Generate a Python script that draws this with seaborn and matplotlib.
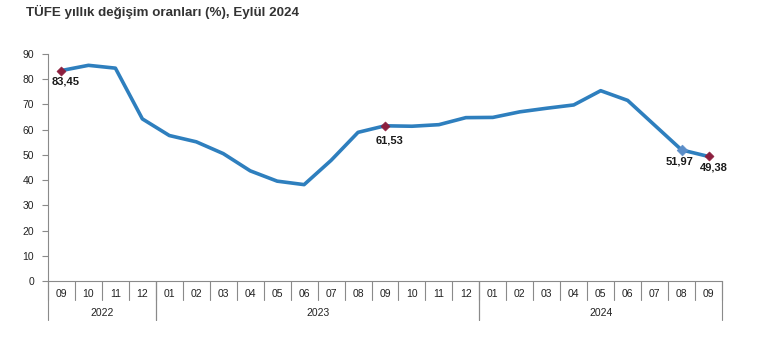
import matplotlib
matplotlib.use("Agg")
import matplotlib.pyplot as plt
import matplotlib.transforms as mtransforms
import seaborn as sns
import pandas as pd
import numpy as np

months = ["09", "10", "11", "12",
          "01", "02", "03", "04", "05", "06", "07", "08", "09", "10", "11", "12",
          "01", "02", "03", "04", "05", "06", "07", "08", "09"]
years = ["2022"] * 4 + ["2023"] * 12 + ["2024"] * 9
values = [83.45, 85.51, 84.39, 64.27,
          57.68, 55.18, 50.51, 43.68, 39.59, 38.21, 47.83, 58.94, 61.53, 61.36, 61.98, 64.77,
          64.86, 67.07, 68.50, 69.80, 75.45, 71.60, 61.78, 51.97, 49.38]
yticks = [0, 10, 20, 30, 40, 50, 60, 70, 80, 90]
title = "TÜFE yıllık değişim oranları (%), Eylül 2024"

highlight_red = [0, 12, 24]
highlight_blue = [23]

df = pd.DataFrame({"idx": np.arange(len(values)), "month": months, "year": years, "value": values})

sns.set_style("white")
plt.rcParams["font.family"] = ["Liberation Sans", "DejaVu Sans"]

fig = plt.figure(figsize=(7.82, 3.38), dpi=100)
ax = fig.add_axes([48 / 782, 1 - 281 / 338, (722 - 48) / 782, (281 - 54) / 338])

line_color = "#2E7FBE"
sns.lineplot(data=df, x="idx", y="value", ax=ax, color=line_color, linewidth=2.6)

red = df.iloc[highlight_red]
blue = df.iloc[highlight_blue]
sns.scatterplot(data=blue, x="idx", y="value", ax=ax, marker="D", s=30, color="#5A8DC8",
                edgecolor="#5A8DC8", zorder=5)
sns.scatterplot(data=red, x="idx", y="value", ax=ax, marker="D", s=22, color="#8C1F3E",
                edgecolor="#8C1F3E", zorder=6)

offsets = {0: (4, -11), 12: (5, -15), 23: (-2, -12), 24: (5, -11)}
for i, (dx, dy) in offsets.items():
    ax.annotate(f"{values[i]:.2f}".replace(".", ","), (i, values[i]), xytext=(dx * 0.72, dy * 0.72),
                textcoords="offset points", ha="center", va="center",
                fontsize=8, fontweight="bold", color="#1a1a1a")

n = len(values)
ax.set_xlim(-0.5, n - 0.5)
ax.set_ylim(0, 90)
ax.set_yticks(yticks)
ax.set_yticklabels([str(t) for t in yticks], fontsize=7.5, color="#222222")
ax.set_xticks([])
ax.set_xlabel("")
ax.set_ylabel("")

for s in ["top", "right"]:
    ax.spines[s].set_visible(False)
axis_color = "#8a8a8a"
ax.spines["left"].set_color(axis_color)
ax.spines["bottom"].set_color(axis_color)
ax.spines["left"].set_linewidth(0.8)
ax.spines["bottom"].set_linewidth(0.8)
ax.tick_params(axis="y", which="major", left=True, length=4, width=0.8, color=axis_color, pad=6)

trans = mtransforms.blended_transform_factory(ax.transData, ax.transAxes)
h = 281 - 54
month_bottom = -(300 - 281) / h
year_bottom = -(320 - 281) / h
month_y = -(294 - 281) / h
year_y = -(313 - 281) / h

# month separators
for k in range(n + 1):
    ax.plot([k - 0.5, k - 0.5], [0, month_bottom], transform=trans, color=axis_color,
            linewidth=0.8, clip_on=False)
for i, m in enumerate(months):
    ax.text(i, month_y, m, transform=trans, ha="center", va="center", fontsize=7.5, color="#222222")

# year groups
groups = []
start = 0
for i in range(1, n + 1):
    if i == n or years[i] != years[start]:
        groups.append((years[start], start, i - 1))
        start = i
for y, a, b in groups:
    for edge in (a - 0.5, b + 0.5):
        ax.plot([edge, edge], [0, year_bottom], transform=trans, color=axis_color,
                linewidth=0.8, clip_on=False)
    ax.text((a + b) / 2, year_y, y, transform=trans, ha="center", va="center",
            fontsize=7.5, color="#222222")

fig.text(26 / 782, 1 - 12 / 338, title, ha="left", va="center", fontsize=9.6,
         fontweight="bold", color="#333333")

fig.savefig("out.png", dpi=100, facecolor="white")
